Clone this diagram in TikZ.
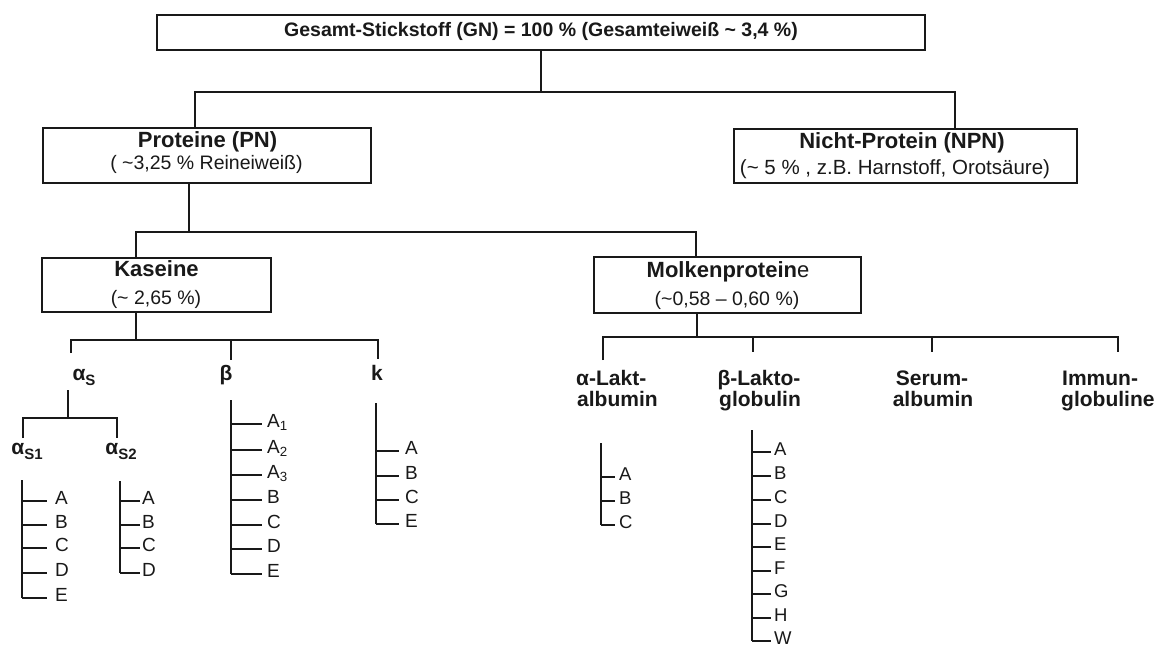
\documentclass[tikz,border=0pt]{standalone}
\usepackage{fontspec}
\setmainfont{Liberation Sans}
\definecolor{ink}{RGB}{25,25,25}
\newcommand{\lowsub}[1]{\raisebox{-0.22em}{\fontsize{15}{15}\selectfont #1}}
\begin{document}
\begin{tikzpicture}[x=1pt,y=-1pt,
  ln/.style={draw=ink,line width=1.8pt},
  thinln/.style={draw=ink,line width=1.1pt},
  box/.style={draw=ink,line width=1.7pt,inner sep=0,rectangle},
  tx/.style={inner sep=0,text height=0.716em,text depth=0pt,text=ink},
  hd/.style={tx,font=\fontsize{22}{22}\selectfont\bfseries},
  sb/.style={tx,font=\fontsize{19.5}{19.5}\selectfont},
  lb/.style={tx,font=\fontsize{21}{21}\selectfont\bfseries},
  lt/.style={tx,anchor=west,font=\fontsize{19}{19}\selectfont},
  lts/.style={tx,anchor=west,font=\fontsize{18.5}{18.5}\selectfont},
]
\fill[white] (0,0) rectangle (1162,651);
\useasboundingbox (0,0) rectangle (1162,651);

% ---------- top ----------
\node[box,minimum width=768,minimum height=35] (gn) at (541,32.5) {};
\node[tx,font=\fontsize{19.5}{19.5}\selectfont\bfseries] (gnt) at (541,32.5)
  {Gesamt-Stickstoff (GN) = 100 \% (Gesamteiweiß \textasciitilde\ 3,4 \%)};

\coordinate (h1a) at (195,92);
\coordinate (h1b) at (955,92);
\coordinate (h1m) at (541,92);
\coordinate (pnIn) at (195,128);
\coordinate (npIn) at (955,129);
\draw[ln] (gn.south) -- (h1m);
\draw[ln] (pnIn) -- (h1a) -- (h1b) -- (npIn);

% ---------- level 2 ----------
\node[box,minimum width=328,minimum height=55] (pn) at (207,155.5) {};
\node[hd] (pnt) at (207.5,143.5) {Proteine (PN)};
\node[sb] (pns) at (206.5,166) {( \textasciitilde3,25 \% Reineiweiß)};

\node[box,minimum width=343,minimum height=54] (np) at (905.5,156) {};
\node[hd] (npt) at (902,145) {Nicht-Protein (NPN)};
\node[tx,font=\fontsize{20.5}{20.5}\selectfont] (nps) at (895,171) {(\textasciitilde\ 5 \% , z.B. Harnstoff, Orotsäure)};

\coordinate (pnOut) at (189,183);
\coordinate (h2m) at (189,232);
\coordinate (h2a) at (136,232);
\coordinate (h2b) at (696,232);
\coordinate (kaIn) at (136,258);
\coordinate (moIn) at (696,257);
\draw[ln] (pnOut) -- (h2m);
\draw[ln] (kaIn) -- (h2a) -- (h2b) -- (moIn);

% ---------- level 3 ----------
\node[box,minimum width=229,minimum height=54] (ka) at (156.5,285) {};
\node[hd] (kat) at (156.5,273) {Kaseine};
\node[sb] (kas) at (156,301) {(\textasciitilde\ 2,65 \%)};

\node[box,minimum width=267,minimum height=56] (mo) at (727.5,285) {};
\node[hd] (mot) at (728,274) {Molkenprotein{\mdseries e}};
\node[sb] (mos) at (727,302) {(\textasciitilde0,58 – 0,60 \%)};

% ---------- casein branches ----------
\coordinate (kaOut) at (136,312);
\coordinate (h3m) at (136,340);
\coordinate (c3a) at (71,340);
\coordinate (c3b) at (231,340);
\coordinate (c3c) at (378,340);
\coordinate (d3a) at (71,353);
\coordinate (d3b) at (231,360);
\coordinate (d3c) at (378,359);
\draw[ln] (kaOut) -- (h3m);
\draw[ln] (d3a) -- (c3a) -- (c3c) -- (d3c);
\draw[ln] (c3b) -- (d3b);

\node[lb] (as) at (84,377) {α\lowsub{S}};
\node[lb] (be) at (226,377) {β};
\node[lb] (kk) at (377,377) {k};

% alpha-S subtree
\coordinate (a0) at (68,390);
\coordinate (a1) at (68,418);
\coordinate (a2l) at (23,418);
\coordinate (a2r) at (117,418);
\coordinate (a3l) at (23,438);
\coordinate (a3r) at (117,438);
\draw[ln] (a0) -- (a1);
\draw[ln] (a3l) -- (a2l) -- (a2r) -- (a3r);
\node[lb] (as1) at (27,451) {α\lowsub{S1}};
\node[lb] (as2) at (121,451) {α\lowsub{S2}};

% alpha-S1 list
\coordinate (v1t) at (22,480);
\coordinate (v1b) at (22,598);
\draw[ln] (v1t) -- (v1b);
\foreach \y/\t [count=\i] in {501/A,525/B,548/C,573/D,598/E}{
  \coordinate (p1\i) at (22,\y);
  \node[lt] (q1\i) at (55,\y) {\t};
  \draw[ln,shorten >=8pt] (p1\i) -- (q1\i.west);
}

% alpha-S2 list
\coordinate (v2t) at (120,481);
\coordinate (v2b) at (120,573);
\draw[ln] (v2t) -- (v2b);
\foreach \y/\t [count=\i] in {501/A,525/B,548/C,573/D}{
  \coordinate (p2\i) at (120,\y);
  \node[lt] (q2\i) at (142,\y) {\t};
  \draw[thinln,shorten >=2pt] (p2\i) -- (q2\i.west);
}

% beta list
\coordinate (v3t) at (231,400);
\coordinate (v3b) at (231,574);
\draw[ln] (v3t) -- (v3b);
\foreach \y/\t [count=\i] in {424/{A\textsubscript{1}},450/{A\textsubscript{2}},475/{A\textsubscript{3}},500/B,525/C,549/D,574/E}{
  \coordinate (p3\i) at (231,\y);
  \node[lt] (q3\i) at (267,\y) {\t};
  \draw[ln,shorten >=5pt] (p3\i) -- (q3\i.west);
}

% kappa list
\coordinate (v4t) at (376,403);
\coordinate (v4b) at (376,524);
\draw[ln] (v4t) -- (v4b);
\foreach \y/\t [count=\i] in {451/A,476/B,500/C,524/E}{
  \coordinate (p4\i) at (376,\y);
  \node[lt] (q4\i) at (405,\y) {\t};
  \draw[ln,shorten >=6pt] (p4\i) -- (q4\i.west);
}

% ---------- whey branches ----------
\coordinate (moOut) at (697,313);
\coordinate (h4m) at (697,337);
\coordinate (c4a) at (603,337);
\coordinate (c4b) at (753,337);
\coordinate (c4c) at (932,337);
\coordinate (c4d) at (1118,337);
\coordinate (d4a) at (603,360);
\coordinate (d4b) at (753,352);
\coordinate (d4c) at (932,352);
\coordinate (d4d) at (1118,352);
\draw[ln] (moOut) -- (h4m);
\draw[ln] (d4a) -- (c4a) -- (c4d) -- (d4d);
\draw[ln] (c4b) -- (d4b);
\draw[ln] (c4c) -- (d4c);

\node[lb,anchor=west] (al1) at (576,382) {α-Lakt-};
\node[lb,anchor=west] (al2) at (577,403) {albumin};
\node[lb] (bl1) at (759,382) {β-Lakto-};
\node[lb] (bl2) at (760,403) {globulin};
\node[lb] (sa1) at (932,382) {Serum-};
\node[lb] (sa2) at (933,403) {albumin};
\node[lb,anchor=west] (ig1) at (1062,382) {Immun-};
\node[lb,anchor=west] (ig2) at (1061,403) {globuline};

% alpha-lactalbumin list
\coordinate (v5t) at (601,443);
\coordinate (v5b) at (601,525);
\draw[ln] (v5t) -- (v5b);
\foreach \y/\t [count=\i] in {477/A,501/B,525/C}{
  \coordinate (p5\i) at (601,\y);
  \node[lts] (q5\i) at (619,\y) {\t};
  \draw[ln,shorten >=4pt] (p5\i) -- (q5\i.west);
}

% beta-lactoglobulin list
\coordinate (v6t) at (752,430);
\coordinate (v6b) at (752,641);
\draw[ln] (v6t) -- (v6b);
\foreach \y/\t [count=\i] in {452/A,476/B,500/C,524/D,547/E,571/F,594/G,618/H,641/W}{
  \coordinate (p6\i) at (752,\y);
  \node[lts] (q6\i) at (774,\y) {\t};
  \draw[thinln,shorten >=3pt] (p6\i) -- (q6\i.west);
}
\end{tikzpicture}
\end{document}
